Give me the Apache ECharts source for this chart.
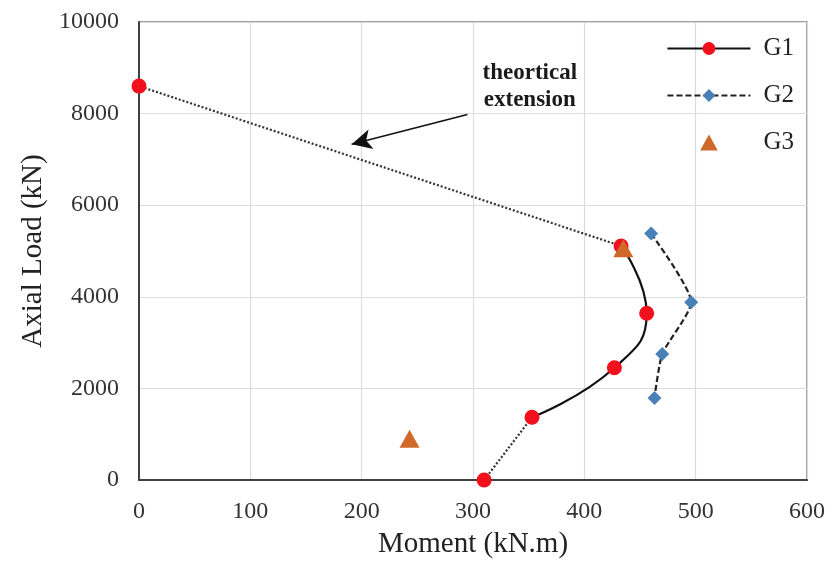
<!DOCTYPE html>
<html>
<head>
<meta charset="utf-8">
<script src="https://cdn.jsdelivr.net/npm/echarts@6/dist/echarts.min.js"></script>
<style>html,body{margin:0;padding:0;background:#fff;}#c{width:833px;height:564px;}</style>
</head>
<body>
<div id="c"></div>
<script>
// G1 measured points (Moment kN.m, Axial Load kN)
const g1Solid = [[353, 1370], [427, 2450], [456, 3640], [433, 5110]];
const g1LowExt = [[310, 0], [353, 1370]];
const g1HighExt = [[433, 5110], [0, 8600]];
const g2 = [[460, 5380], [496, 3880], [470, 2750], [463, 1790]];
const g3 = [[435, 5060], [243, 900]];
const xTicks = [0, 100, 200, 300, 400, 500, 600];
const yTicks = [0, 2000, 4000, 6000, 8000, 10000];
const noteText = 'theortical\nextension';
const notePos = [351, 8580];
const arrowFrom = [295, 7980];
const arrowTo = [191, 7330];

const serif = '"Liberation Serif", "Times New Roman", serif';
const chart = echarts.init(document.getElementById('c'), null, {renderer: 'canvas'});
chart.setOption({
  animation: false,
  backgroundColor: '#ffffff',
  grid: {left: 139, right: 26, top: 22, bottom: 81, show: true, borderColor: '#7f7f7f', borderWidth: 1.5},
  legend: {
    orient: 'vertical', right: 34, top: 31,
    data: ['G1', 'G2', {name: 'G3', icon: 'path://M0,10L5.5,0L11,10Z'}],
    symbolKeepAspect: true,
    itemWidth: 83, itemHeight: 16, itemGap: 22,
    textStyle: {fontFamily: serif, fontSize: 25, color: '#222', padding: [0, 0, 0, 8]}
  },
  xAxis: {
    type: 'value', min: xTicks[0], max: xTicks[xTicks.length - 1], interval: 100,
    name: 'Moment (kN.m)', nameLocation: 'middle', nameGap: 50,
    nameTextStyle: {fontFamily: serif, fontSize: 29, color: '#222'},
    axisLine: {show: true, lineStyle: {color: '#404040', width: 2}},
    axisTick: {show: false},
    axisLabel: {fontFamily: serif, fontSize: 24, color: '#333', margin: 20, formatter: v => String(v)},
    splitLine: {show: true, lineStyle: {color: '#dcdcdc', width: 1.2}}
  },
  yAxis: {
    type: 'value', min: yTicks[0], max: yTicks[yTicks.length - 1], interval: 2000,
    name: 'Axial Load (kN)', nameLocation: 'middle', nameGap: 90,
    nameTextStyle: {fontFamily: serif, fontSize: 29, color: '#222'},
    axisLine: {show: true, lineStyle: {color: '#404040', width: 2}},
    axisTick: {show: false},
    axisLabel: {fontFamily: serif, fontSize: 24, color: '#333', margin: 20, formatter: v => String(v)},
    splitLine: {show: true, lineStyle: {color: '#dcdcdc', width: 1.2}}
  },
  series: [
    {
      name: 'G1ext1', type: 'line', data: g1LowExt, symbol: 'none', z: 2,
      lineStyle: {color: '#333', width: 2.2, type: [2, 2]}
    },
    {
      name: 'G1ext2', type: 'line', data: g1HighExt, symbol: 'none', z: 2,
      lineStyle: {color: '#333', width: 2.2, type: [2, 2]},
      markLine: {
        silent: true, symbol: ['none', 'arrow'], symbolSize: [15, 20],
        lineStyle: {color: '#111', width: 1.6, type: 'solid'},
        label: {show: false},
        data: [[{coord: arrowFrom}, {coord: arrowTo}]]
      },
      markPoint: {
        silent: true, symbol: 'circle', symbolSize: 0,
        label: {show: true, position: 'inside', formatter: noteText, fontFamily: serif,
                fontWeight: 'bold', fontSize: 23, lineHeight: 27, color: '#1a1a1a'},
        data: [{coord: notePos}]
      }
    },
    {
      name: 'G1', type: 'line', data: g1Solid, smooth: 0.5, z: 3,
      symbol: 'circle', symbolSize: 15,
      lineStyle: {color: '#111', width: 2.2},
      itemStyle: {color: '#f2101c'}
    },
    {
      name: 'G1pts', type: 'scatter', data: [g1LowExt[0], g1HighExt[1]], z: 4,
      symbol: 'circle', symbolSize: 15, itemStyle: {color: '#f2101c', opacity: 1}
    },
    {
      name: 'G2', type: 'line', data: g2, smooth: 0.2, z: 3,
      symbol: 'diamond', symbolSize: 14,
      lineStyle: {color: '#222', width: 2.2, type: [6, 3]},
      itemStyle: {color: '#4a80b8'}
    },
    {
      name: 'G3', type: 'scatter', data: g3, z: 5,
      symbol: 'triangle', symbolSize: [20, 18],
      itemStyle: {color: '#d0682a', opacity: 1}
    }
  ]
});
</script>
</body>
</html>
